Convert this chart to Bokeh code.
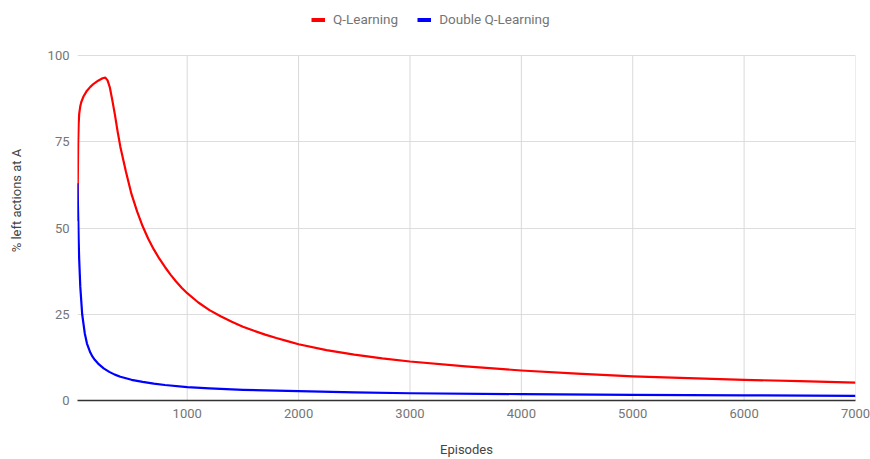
import math
from bokeh.plotting import figure
from bokeh.models import Range1d, FixedTicker, Legend, LegendItem, ColumnDataSource
from bokeh.embed import file_html
from bokeh.resources import INLINE

# ---- data ----
q_episodes = [15, 18, 21, 25, 30, 40, 50, 70, 100, 130, 160, 200, 240, 265, 285, 305,
              325, 350, 375, 400, 450, 500, 550, 600, 650, 700, 750, 800, 850, 900, 950,
              1000, 1100, 1200, 1300, 1400, 1500, 1600, 1700, 1800, 1900, 2000, 2250,
              2500, 2750, 3000, 3500, 4000, 4500, 5000, 5500, 6000, 6500, 7000]
q_learning = [52, 65, 75, 80, 83, 85.3, 86.6, 88.2, 89.8, 90.9, 91.8, 92.7, 93.4, 93.6,
              92.8, 90.8, 87.5, 83, 78, 73.5, 66.3, 59.8, 54.8, 50.5, 46.9, 43.8, 41.1,
              38.7, 36.5, 34.5, 32.7, 31.1, 28.4, 26.2, 24.4, 22.8, 21.4, 20.2, 19.1, 18.1,
              17.2, 16.3, 14.6, 13.3, 12.2, 11.3, 9.9, 8.7, 7.8, 7.0, 6.5, 6.0, 5.6, 5.2]

dq_episodes = [15, 18, 22, 25, 30, 40, 57, 80, 100, 130, 150, 170, 200, 250, 300, 350,
               400, 500, 600, 700, 800, 1000, 1200, 1500, 2000, 2500, 3000, 4000, 5000,
               6000, 7000]
double_q_learning = [63, 58, 52, 47, 41, 33, 25, 19.5, 16.5, 13.9, 12.7, 11.8, 10.7, 9.3,
                     8.3, 7.5, 6.9, 6.0, 5.4, 4.9, 4.5, 3.9, 3.5, 3.1, 2.7, 2.35, 2.1,
                     1.85, 1.65, 1.5, 1.35]

x_ticks = [1000, 2000, 3000, 4000, 5000, 6000, 7000]
y_ticks = [0, 25, 50, 75, 100]
series_names = ["Q-Learning", "Double Q-Learning"]
series_colors = ["#ff0000", "#0000ff"]

FONT = "Roboto"
TICK_COLOR = "#757575"
TITLE_COLOR = "#444444"

Y_MAX = y_ticks[-1]
PLOT_H = 400          # frame height in px (frame reaches top of canvas, legend lives inside it)
GRID_TOP_PX = 55      # where the 100 line sits
y_top = Y_MAX * PLOT_H / (PLOT_H - GRID_TOP_PX)

p = figure(width=870, height=459, output_backend="svg", toolbar_location=None, title=None,
           x_range=Range1d(15, 7000), y_range=Range1d(0, y_top),
           min_border_left=77, min_border_right=15, min_border_top=0, min_border_bottom=59)
p.outline_line_color = None
p.background_fill_color = "white"
p.border_fill_color = "white"

# grids: horizontal via grid, vertical drawn only over the 0..100 data band
p.xgrid.visible = False
p.ygrid.ticker = FixedTicker(ticks=[t for t in y_ticks if t > 0])
p.ygrid.grid_line_color = "#dddddd"
p.segment(x0=x_ticks, y0=[y_ticks[0]] * len(x_ticks), x1=x_ticks, y1=[Y_MAX] * len(x_ticks),
          line_color="#d9d9d9", line_width=1)

# x axis
xa = p.xaxis[0]
xa.ticker = FixedTicker(ticks=x_ticks)
xa.axis_line_color = "#333333"
xa.axis_line_width = 1.3
xa.major_tick_line_color = None
xa.minor_tick_line_color = None
xa.major_label_text_font = FONT
xa.major_label_text_font_size = "13px"
xa.major_label_text_color = TICK_COLOR
xa.major_label_standoff = 2
xa.axis_label = "Episodes"
xa.axis_label_text_font = FONT
xa.axis_label_text_font_size = "13px"
xa.axis_label_text_font_style = "normal"
xa.axis_label_text_color = TITLE_COLOR
xa.axis_label_standoff = 21

# y axis
ya = p.yaxis[0]
ya.ticker = FixedTicker(ticks=y_ticks)
ya.axis_line_color = None
ya.major_tick_line_color = None
ya.minor_tick_line_color = None
ya.major_label_text_font = FONT
ya.major_label_text_font_size = "13px"
ya.major_label_text_color = TICK_COLOR
ya.major_label_standoff = 2
ya.axis_label = "% left actions at A"
ya.axis_label_text_font = FONT
ya.axis_label_text_font_size = "13px"
ya.axis_label_text_font_style = "normal"
ya.axis_label_text_color = TITLE_COLOR
ya.axis_label_standoff = 21

# series
src_q = ColumnDataSource(dict(x=q_episodes, y=q_learning))
src_dq = ColumnDataSource(dict(x=dq_episodes, y=double_q_learning))
p.line("x", "y", source=src_q, line_color=series_colors[0], line_width=2.2, line_join="round")
p.line("x", "y", source=src_dq, line_color=series_colors[1], line_width=2.2, line_join="round")

# legend swatches (thicker, like the reference)
nan_src = ColumnDataSource(dict(x=[math.nan], y=[math.nan]))
sw_q = p.line("x", "y", source=nan_src, line_color=series_colors[0], line_width=4)
sw_dq = p.line("x", "y", source=nan_src, line_color=series_colors[1], line_width=4)

legend = Legend(items=[LegendItem(label=series_names[0], renderers=[sw_q]),
                       LegendItem(label=series_names[1], renderers=[sw_dq])],
                orientation="horizontal", location=(234, 373))
legend.border_line_color = None
legend.background_fill_alpha = 0
legend.padding = 0
legend.margin = 0
legend.spacing = 19
legend.glyph_width = 14
legend.glyph_height = 15
legend.label_height = 15
legend.label_standoff = 8
legend.label_text_font = FONT
legend.label_text_font_size = "13.5px"
legend.label_text_color = TICK_COLOR
p.add_layout(legend, "center")

open("out.html", "w").write(file_html(p, INLINE))
